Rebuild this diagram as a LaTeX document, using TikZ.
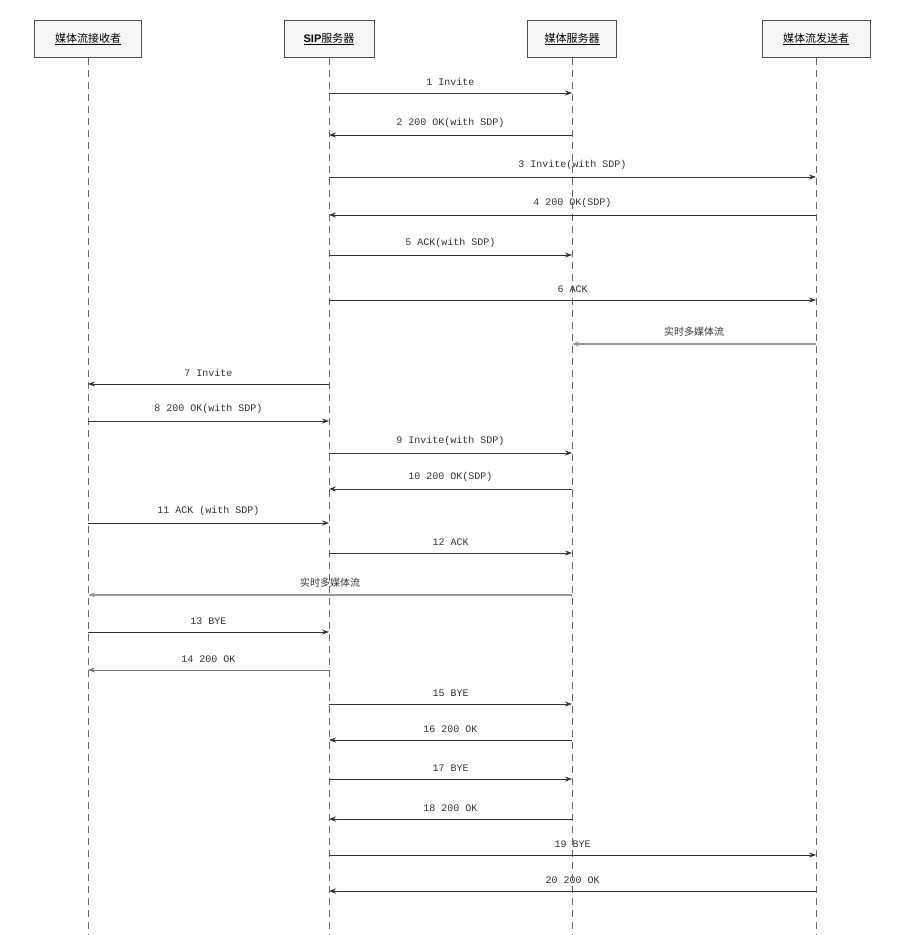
\documentclass[tikz,border=0pt]{standalone}
\usepackage{fontspec}
\setmainfont{Liberation Mono}
\newfontfamily\cjk{Noto Sans CJK SC}
\newfontfamily\hdr{Liberation Sans}
\usetikzlibrary{arrows.meta}

\tikzset{
  actor/.style={draw=black!70, fill=black!3, line width=0.8pt, minimum height=37pt, inner sep=3pt, font=\cjk\fontsize{11}{13}\selectfont},
  life/.style={dashed, black!60, line width=0.7pt, dash pattern=on 7pt off 5pt},
  msg/.style={-{Stealth[length=7pt,width=5pt]}, line width=0.7pt, black!80},
  flow/.style={msg, black!40, line width=1.2pt},
  lbl/.style={font=\fontsize{10}{12}\selectfont, black!80}
}

\begin{document}
\begin{tikzpicture}[x=1pt, y=-1pt]
  \useasboundingbox (0,0) rectangle (903,935);

  % participants
  \node[actor, minimum width=107pt] (L1) at (88,39)  {\underline{媒体流接收者}};
  \node[actor, minimum width=90pt]  (L2) at (329,39) {\underline{{\hdr\bfseries SIP}服务器}};
  \node[actor, minimum width=89pt]  (L3) at (572,39) {\underline{媒体服务器}};
  \node[actor, minimum width=108pt] (L4) at (816,39) {\underline{媒体流发送者}};

  % lifelines
  \foreach \i in {1,...,4} {
    \draw[life] (L\i.south) -- (L\i.south |- 0,935);
  }

  % messages: from / to / y / label
  \foreach \f/\t/\y/\s in {
    2/3/93/{1 Invite},
    3/2/135/{2 200 OK(with SDP)},
    2/4/177/{3 Invite(with SDP)},
    4/2/215/{4 200 OK(SDP)},
    2/3/255/{5 ACK(with SDP)},
    2/4/300/{6 ACK},
    2/1/384/{7 Invite},
    1/2/421/{8 200 OK(with SDP)},
    2/3/453/{9 Invite(with SDP)},
    3/2/489/{10 200 OK(SDP)},
    1/2/523/{11 ACK (with SDP)},
    2/3/553/{12 ACK},
    1/2/632/{13 BYE},
    2/3/704/{15 BYE},
    3/2/740/{16 200 OK},
    2/3/779/{17 BYE},
    3/2/819/{18 200 OK},
    2/4/855/{19 BYE},
    4/2/891/{20 200 OK}%
  } {
    \draw[msg] (L\f |- 0,\y) -- node[lbl, above=4pt] {\s} (L\t |- 0,\y);
  }

  % gray ones
  \draw[msg, black!55] (L2 |- 0,670) -- node[lbl, above=4pt] {14 200 OK} (L1 |- 0,670);

  % media streams
  \draw[flow] (L4 |- 0,344) -- node[lbl, above=4pt, pos=0.5] {\cjk 实时多媒体流} (L3 |- 0,344);
  \draw[flow] (L3 |- 0,595) -- node[lbl, above=4pt, pos=0.5] {\cjk 实时多媒体流} (L1 |- 0,595);
\end{tikzpicture}
\end{document}
